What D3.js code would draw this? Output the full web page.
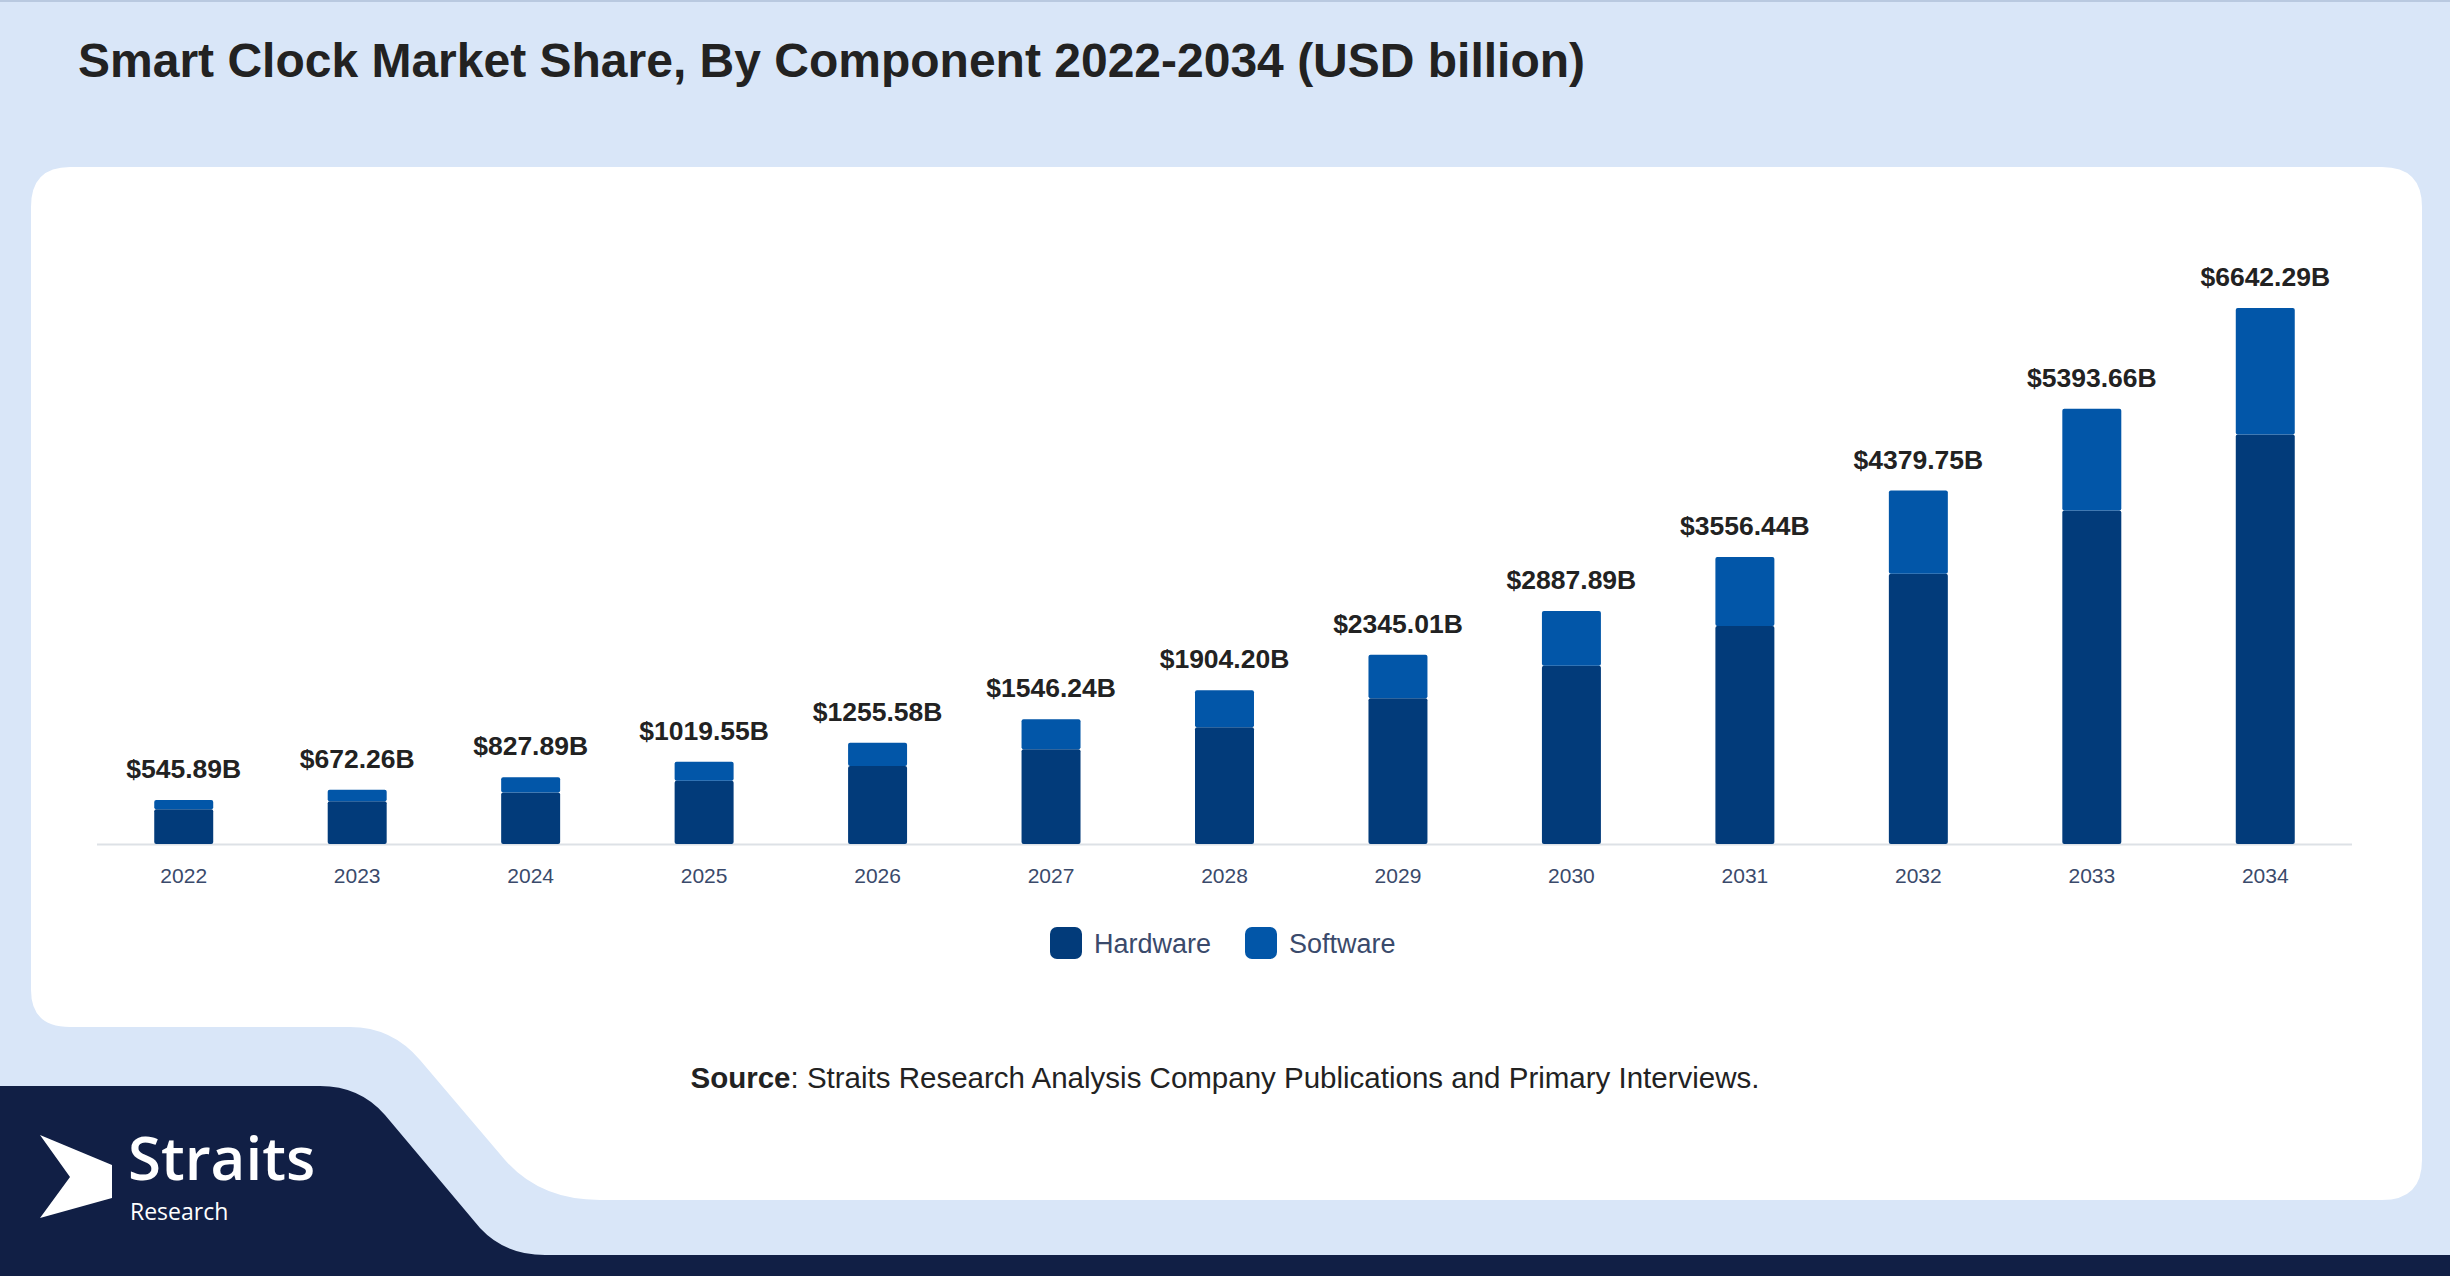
<!DOCTYPE html>
<html><head><meta charset="utf-8">
<script src="https://cdn.jsdelivr.net/npm/d3@7"></script>
<style>body{margin:0;background:#d9e6f8;}svg{display:block;}</style>
</head><body>
<div class="theChart"></div>
<script>
const years = ["2022","2023","2024","2025","2026","2027","2028","2029","2030","2031","2032","2033","2034"];
const hardware = [431.3,531.1,637.5,785.0,966.8,1175.1,1447.2,1805.7,2209.2,2702.9,3350.5,4131.5,5074.7];
const software = [114.6,141.2,190.4,234.5,288.8,371.1,457.0,539.3,678.7,853.5,1029.3,1262.2,1567.6];
const totals = ["$545.89B","$672.26B","$827.89B","$1019.55B","$1255.58B","$1546.24B","$1904.20B","$2345.01B","$2887.89B","$3556.44B","$4379.75B","$5393.66B","$6642.29B"];
const seriesNames = ["Hardware","Software"];
const colors = ["#023b7a","#0256a8"];

const width = 2450, height = 1276;
const svg = d3.select('.theChart').append('svg')
  .attr("width", width).attr("height", height)
  .attr("viewBox", [0, 0, width, height]);

svg.append("rect").attr("width", width).attr("height", height).attr("fill", "#d9e6f8");
svg.append("rect").attr("width", width).attr("height", 2).attr("fill", "#b9c9e0");

// white card with cut bottom-left corner
svg.append("path").attr("fill", "#fff")
  .attr("d", "M70,167 H2382 Q2422,167 2422,207 V1160 Q2422,1200 2382,1200 H600 Q540,1200 505,1160 L420,1060 Q392,1027 350,1027 H70 Q31,1027 31,990 V207 Q31,167 70,167 Z");

// dark navy logo shape + bottom strip
svg.append("path").attr("fill", "#111f45")
  .attr("d", "M0,1086 H320 Q360,1086 385,1115 L480,1228 Q505,1255 545,1255 H2450 V1276 H0 Z");

svg.append("text").attr("x", 78).attr("y", 77)
  .attr("font-family", "Liberation Sans, Arial, sans-serif").attr("font-weight", "bold")
  .attr("font-size", 48).attr("fill", "#222")
  .text("Smart Clock Market Share, By Component 2022-2034 (USD billion)");

const x = d3.scaleBand().domain(years).range([97, 2352]).paddingInner(0.66).paddingOuter(0.33);
const y = d3.scaleLinear().domain([0, 6642.29]).range([844, 308]);

const stackData = years.map((yr, i) => ({year: yr, Hardware: hardware[i], Software: software[i]}));
const stacked = d3.stack().keys(seriesNames)(stackData);

svg.append("line").attr("x1", 97).attr("x2", 2352).attr("y1", 844.5).attr("y2", 844.5)
  .attr("stroke", "#dde1e6").attr("stroke-width", 2);

svg.append("g").selectAll("g").data(stacked).join("g")
  .attr("fill", (d, i) => colors[i])
  .selectAll("rect").data(d => d).join("rect")
  .attr("x", d => x(d.data.year)).attr("width", x.bandwidth())
  .attr("y", d => y(d[1])).attr("height", d => y(d[0]) - y(d[1]))
  .attr("rx", 2);

svg.append("g").selectAll("text").data(years).join("text")
  .attr("x", d => x(d) + x.bandwidth() / 2)
  .attr("y", (d, i) => y(hardware[i] + software[i]) - 22)
  .attr("text-anchor", "middle")
  .attr("font-family", "Liberation Sans, Arial, sans-serif").attr("font-weight", "bold")
  .attr("font-size", 26.5).attr("fill", "#222")
  .text((d, i) => totals[i]);

const xAxis = svg.append("g").attr("transform", "translate(0,844)")
  .call(d3.axisBottom(x).tickSize(0).tickPadding(24));
xAxis.select(".domain").remove();
xAxis.selectAll("text").attr("font-family", "Liberation Sans, Arial, sans-serif")
  .attr("font-size", 21).attr("fill", "#3a4a6b");

// legend
const legend = svg.append("g").attr("transform", "translate(1050,942)");
const lx = [0, 195];
seriesNames.forEach((s, i) => {
  legend.append("rect").attr("x", lx[i]).attr("y", -15).attr("width", 32).attr("height", 32)
    .attr("rx", 7).attr("fill", colors[i]);
  legend.append("text").attr("x", lx[i] + 44).attr("y", 11)
    .attr("font-family", "Liberation Sans, Arial, sans-serif").attr("font-size", 27)
    .attr("fill", "#3a4a6b").text(s);
});

const src = svg.append("text").attr("x", 1225).attr("y", 1088).attr("text-anchor", "middle")
  .attr("font-family", "Liberation Sans, Arial, sans-serif").attr("font-size", 29.5).attr("fill", "#222");
src.append("tspan").attr("font-weight", "bold").text("Source");
src.append("tspan").text(": Straits Research Analysis Company Publications and Primary Interviews.");

// logo
svg.append("path").attr("fill", "#fff")
  .attr("d", "M40,1135 L112,1165 V1198 L40,1218 L70,1177 Z");
svg.append("text").attr("x", 128).attr("y", 1180)
  .attr("font-family", "Open Sans, sans-serif").attr("font-weight", "600")
  .attr("font-size", 60).attr("fill", "#fff").text("Straits");
svg.append("text").attr("x", 130).attr("y", 1220)
  .attr("font-family", "Open Sans, sans-serif")
  .attr("font-size", 23).attr("fill", "#fff").text("Research");
</script>
</body></html>
